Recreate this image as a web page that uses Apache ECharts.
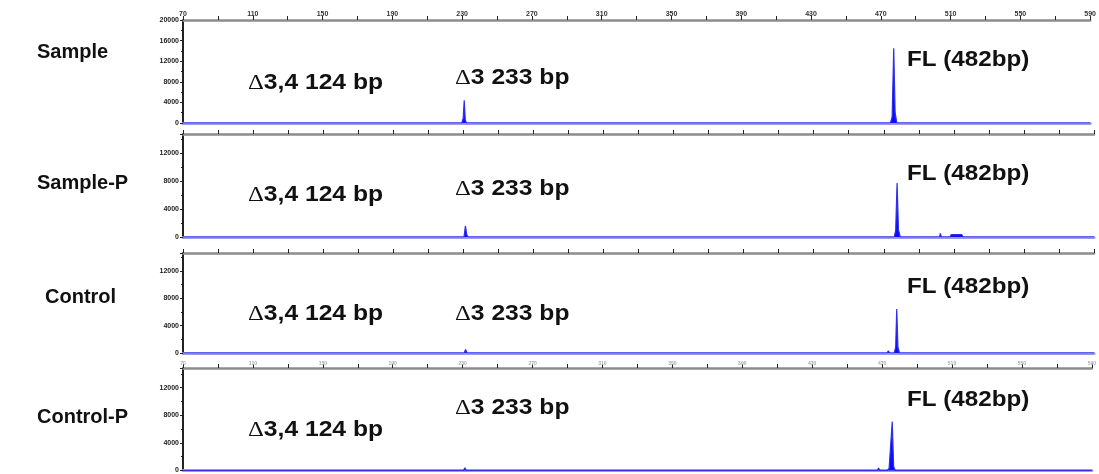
<!DOCTYPE html>
<html>
<head>
<meta charset="utf-8">
<script src="https://cdn.jsdelivr.net/npm/echarts@6/dist/echarts.min.js"></script>
<style>
html,body{margin:0;padding:0;background:#fff;}
#chart{width:1099px;height:474px;}
</style>
</head>
<body>
<div id="chart"></div>
<script>
// ---- Data (fragment size in bp, fluorescence intensity) ----
const panelNames = ['Sample', 'Sample-P', 'Control', 'Control-P'];
const labelD34 = '3,4 124 bp';
const labelD3 = '3 233 bp';
const labelFL = 'FL (482bp)';
const bpMin = 70;
const bpMax = 590;
const yMaxes = [20000, 14700, 14650, 14850];

const sampleData = [[70,0],[229.8,0],[230.6,900],[231.2,4400],[231.8,600],[232.5,0],[475.5,0],[476.5,1200],[477.4,14500],[478.2,2000],[479.2,0],[590,0]];
const samplePData = [[70,0],[230.4,0],[231.2,1600],[232,300],[232.8,0],[476,0],[476.8,1000],[477.6,7700],[478.4,1000],[479.4,0],[501.8,0],[502.3,500],[502.8,0],[507.8,0],[508.5,350],[514.5,350],[515.3,0],[590,0]];
const controlData = [[70,0],[230.5,0],[231.3,500],[232.2,0],[471.8,0],[472.6,300],[473.4,0],[476,0],[476.8,900],[477.4,6450],[478.1,800],[479,0],[590,0]];
const controlPData = [[70,0],[230.5,0],[231.3,400],[232.1,0],[467.3,0],[468,350],[468.8,0],[473,0],[474,300],[475,400],[475.8,7100],[476.6,600],[477.5,0],[590,0]];
const allData = [sampleData, samplePData, controlData, controlPData];

// ---- Layout ----
const grids = [
  {left:183, right:5, top:20, height:103},
  {left:183, right:5, top:134, height:103},
  {left:183, right:5, top:253, height:100},
  {left:183, right:5, top:368, height:104}
];
const nameY = [52, 183, 297, 417];
const nameX = [37, 37, 45, 37];
const d34Y = [83, 195, 314, 430];
const d3Y = [78, 189, 314, 408];
const flY = [60, 174, 287, 400];

const xAxes = [];
const yAxes = [];
const series = [];
grids.forEach((g, i) => {
  xAxes.push({
    gridIndex: i, type: 'value', position: 'top', min: bpMin, max: bpMax, interval: 20,
    axisLine: {show: true, onZero: false, lineStyle: {color: '#8c8c8c', width: 2.5}},
    axisTick: {show: true, length: 4, lineStyle: {color: '#222', width: 1}},
    splitLine: {show: false},
    axisLabel: {
      show: i === 0 || i === 3,
      showMaxLabel: true,
      fontSize: i === 0 ? 7 : 5,
      fontWeight: 'bold',
      color: i === 0 ? '#333' : '#aaa',
      margin: 2,
      fontFamily: 'Liberation Sans',
      formatter: v => ((v - bpMin) % 40 === 0 ? String(v) : '')
    }
  });
  xAxes.push({
    gridIndex: i, type: 'value', position: 'bottom', min: bpMin, max: bpMax,
    axisLine: {show: true, onZero: false, lineStyle: {color: '#9a9ae6', width: 3}},
    axisTick: {show: false}, axisLabel: {show: false}, splitLine: {show: false}
  });
  yAxes.push({
    gridIndex: i, type: 'value', min: 0, max: yMaxes[i], interval: 4000,
    axisLine: {show: true, lineStyle: {color: '#222', width: 2}},
    axisTick: {show: true, length: 3, lineStyle: {color: '#222'}},
    minorTick: {show: true, splitNumber: 2, length: 2, lineStyle: {color: '#222'}},
    splitLine: {show: false},
    axisLabel: {
      fontSize: 7, fontWeight: 'bold', color: '#222', margin: 4,
      fontFamily: 'Liberation Sans',
      showMaxLabel: i === 0,
      formatter: v => String(v)
    }
  });
  series.push({
    type: 'line', xAxisIndex: i * 2, yAxisIndex: i, data: allData[i],
    symbol: 'none', smooth: false, z: 5,
    lineStyle: {color: '#2f2ff0', width: 1.2},
    areaStyle: {color: '#0a0aff', opacity: 1}
  });
});

const nameText = (t, x, y) => ({
  type: 'text', x: x, y: y, z: 100,
  style: {
    text: t, fill: '#111', verticalAlign: 'middle',
    font: 'bold 20px "Liberation Sans", Arial, sans-serif'
  }
});
const flText = (t, x, y) => ({
  type: 'text', x: x, y: y, z: 100, scaleX: 1.1,
  style: {
    text: t, fill: '#111', verticalAlign: 'middle',
    font: 'bold 22px "Liberation Sans", Arial, sans-serif'
  }
});
const deltaText = (t, x, y) => ({
  type: 'text', x: x, y: y, z: 100, scaleX: 1.12,
  style: {
    text: '{d|\u0394}{b|' + t + '}', verticalAlign: 'middle', fill: '#111',
    rich: {
      d: {font: '22px "Liberation Serif", serif', fill: '#111'},
      b: {font: 'bold 22px "Liberation Sans", Arial, sans-serif', fill: '#111'}
    }
  }
});

const graphics = [];
for (let i = 0; i < 4; i++) {
  graphics.push(nameText(panelNames[i], nameX[i], nameY[i]));
  graphics.push(deltaText(labelD34, 248, d34Y[i]));
  graphics.push(deltaText(labelD3, 455, d3Y[i]));
  graphics.push(flText(labelFL, 907, flY[i]));
}

const chart = echarts.init(document.getElementById('chart'));
chart.setOption({
  animation: false,
  backgroundColor: '#fff',
  grid: grids,
  xAxis: xAxes,
  yAxis: yAxes,
  series: series,
  graphic: graphics
});
</script>
</body>
</html>
